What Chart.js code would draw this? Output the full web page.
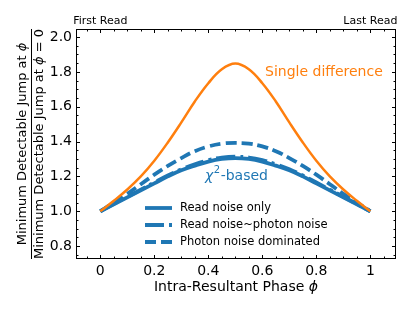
<!DOCTYPE html>
<html><head><meta charset="utf-8">
<script src="https://cdn.jsdelivr.net/npm/chart.js@4/dist/chart.umd.min.js"></script>
<style>html,body{margin:0;padding:0;background:#fff;}canvas{display:block;}</style>
</head><body>
<canvas id="c" width="415" height="311"></canvas>
<script>
const phase = [0,0.05,0.1,0.15,0.2,0.25,0.3,0.35,0.4,0.45,0.5,0.55,0.6,0.65,0.7,0.75,0.8,0.85,0.9,0.95,1];
const singleDiff = [1.00,1.06,1.125,1.20,1.29,1.395,1.51,1.63,1.735,1.815,1.848,1.815,1.735,1.63,1.51,1.395,1.29,1.20,1.125,1.06,1.00];
const readOnly = [1.00,1.04,1.08,1.12,1.16,1.20,1.235,1.262,1.285,1.30,1.305,1.30,1.285,1.262,1.235,1.20,1.16,1.12,1.08,1.04,1.00];
const readPhoton = [1.00,1.042,1.083,1.124,1.165,1.205,1.241,1.27,1.293,1.308,1.313,1.308,1.293,1.27,1.241,1.205,1.165,1.124,1.083,1.042,1.00];
const photonDom = [1.00,1.05,1.10,1.155,1.21,1.26,1.305,1.345,1.372,1.388,1.392,1.388,1.372,1.345,1.305,1.26,1.21,1.155,1.10,1.05,1.00];
const seriesNames = ['Read noise only','Read noise~photon noise','Photon noise dominated'];
const xTickValues = [0,0.2,0.4,0.6,0.8,1];
const xTickLabels = ['0','0.2','0.4','0.6','0.8','1'];
const yTickValues = [0.8,1.0,1.2,1.4,1.6,1.8,2.0];
const yTickLabels = ['0.8','1.0','1.2','1.4','1.6','1.8','2.0'];
const topLabels = ['First Read','Last Read'];

const BLUE = '#1f77b4', ORANGE = '#ff7f0e';
const FONT = 'DejaVu Sans';
const pts = arr => phase.map((p,i)=>({x:p,y:arr[i]}));

const decor = {
  id:'decor',
  afterDraw(chart){
    const ctx = chart.ctx, ca = chart.chartArea;
    const xs = chart.scales.x, ys = chart.scales.y;
    ctx.save();
    ctx.strokeStyle = '#000'; ctx.lineWidth = 1;
    ctx.strokeRect(ca.left+0.5, ca.top+0.5, ca.right-ca.left-1, ca.bottom-ca.top-1);
    ctx.beginPath();
    for (let v=-0.05; v<=1.0501; v+=0.05){
      const px = Math.round(xs.getPixelForValue(v))+0.5;
      const major = Math.abs(Math.round(v*5)-v*5)<1e-6;
      const L = major?4:2.5;
      ctx.moveTo(px, ca.bottom); ctx.lineTo(px, ca.bottom-L);
      ctx.moveTo(px, ca.top); ctx.lineTo(px, ca.top+L);
    }
    for (let v=0.75; v<=2.0401; v+=0.05){
      const py = Math.round(ys.getPixelForValue(v))+0.5;
      const major = Math.abs(Math.round(v*5)-v*5)<1e-6;
      const L = major?4:2.5;
      ctx.moveTo(ca.left, py); ctx.lineTo(ca.left+L, py);
      ctx.moveTo(ca.right, py); ctx.lineTo(ca.right-L, py);
    }
    ctx.stroke();
    ctx.fillStyle = '#000';
    ctx.font = '11px "'+FONT+'"';
    ctx.textBaseline = 'alphabetic';
    ctx.textAlign = 'center';
    ctx.fillText(topLabels[0], xs.getPixelForValue(0), ca.top-5);
    ctx.fillText(topLabels[1], xs.getPixelForValue(1), ca.top-5);
    ctx.font = '14px "'+FONT+'"';
    ctx.fillStyle = ORANGE; ctx.textAlign = 'left'; ctx.textBaseline = 'middle';
    ctx.fillText('Single difference', 265, 72);
    ctx.fillStyle = BLUE;
    ctx.font = 'italic 14px "'+FONT+'"';
    ctx.fillText('\u03c7', 205, 176);
    const wc = ctx.measureText('\u03c7').width;
    ctx.font = '10px "'+FONT+'"';
    ctx.fillText('2', 205+wc+0.5, 170);
    const w2s = ctx.measureText('2').width;
    ctx.font = '14px "'+FONT+'"';
    ctx.fillText('-based', 205+wc+w2s+1, 176);
    const ds = chart.data.datasets.slice(1);
    const rows = [208,225,242];
    ds.forEach((d,i)=>{
      ctx.strokeStyle = d.borderColor; ctx.lineWidth = d.borderWidth;
      ctx.setLineDash(d.borderDash||[]);
      ctx.beginPath(); ctx.moveTo(145, rows[i]); ctx.lineTo(172, rows[i]); ctx.stroke();
      ctx.setLineDash([]);
      ctx.fillStyle = '#000'; ctx.font = '11.5px "'+FONT+'"';
      ctx.textAlign='left'; ctx.textBaseline='middle';
      ctx.fillText(seriesNames[i], 180, rows[i]);
    });
    const cy = (ca.top+ca.bottom)/2;
    ctx.save();
    ctx.translate(0, cy); ctx.rotate(-Math.PI/2);
    ctx.fillStyle='#000'; ctx.textBaseline='alphabetic';
    const FS = 13;
    const drawMath = (pre, phiSuffix, y) => {
      ctx.font = FS+'px "'+FONT+'"';
      const w1 = ctx.measureText(pre).width;
      ctx.font = 'italic '+FS+'px "'+FONT+'"';
      const w2 = ctx.measureText('\u03d5').width;
      ctx.font = FS+'px "'+FONT+'"';
      const w3 = ctx.measureText(phiSuffix).width;
      let x0 = -(w1+w2+w3)/2;
      ctx.textAlign='left';
      ctx.fillText(pre, x0, y);
      ctx.font = 'italic '+FS+'px "'+FONT+'"';
      ctx.fillText('\u03d5', x0+w1, y);
      ctx.font = FS+'px "'+FONT+'"';
      ctx.fillText(phiSuffix, x0+w1+w2, y);
      return w1+w2+w3;
    };
    drawMath('Minimum Detectable Jump at ', '', 26);
    const wd = drawMath('Minimum Detectable Jump at ', ' = 0', 43);
    ctx.lineWidth = 1; ctx.strokeStyle='#000';
    ctx.beginPath(); ctx.moveTo(-wd/2, 31.5); ctx.lineTo(wd/2, 31.5); ctx.stroke();
    ctx.restore();
    ctx.fillStyle='#000'; ctx.textBaseline='middle';
    ctx.font = '14px "'+FONT+'"';
    const t1 = 'Intra-Resultant Phase ';
    const w1 = ctx.measureText(t1).width;
    ctx.font = 'italic 14px "'+FONT+'"';
    const w2 = ctx.measureText('\u03d5').width;
    const xc = (ca.left+ca.right)/2;
    ctx.textAlign='left';
    ctx.font = '14px "'+FONT+'"';
    ctx.fillText(t1, xc-(w1+w2)/2, 287);
    ctx.font = 'italic 14px "'+FONT+'"';
    ctx.fillText('\u03d5', xc-(w1+w2)/2+w1, 287);
    ctx.restore();
  }
};

new Chart(document.getElementById('c'), {
  type:'line',
  data:{datasets:[
    {label:'Single difference', data:pts(singleDiff), borderColor:ORANGE, borderWidth:2.5, pointRadius:0, tension:0.4, fill:false},
    {label:seriesNames[0], data:pts(readOnly), borderColor:BLUE, borderWidth:3.8, pointRadius:0, tension:0.4, fill:false},
    {label:seriesNames[1], data:pts(readPhoton), borderColor:BLUE, borderWidth:3.8, borderDash:[19,5,3,5], pointRadius:0, tension:0.4, fill:false},
    {label:seriesNames[2], data:pts(photonDom), borderColor:BLUE, borderWidth:3.8, borderDash:[11,5], pointRadius:0, tension:0.4, fill:false}
  ]},
  options:{
    responsive:false, animation:false, devicePixelRatio:1,
    layout:{padding:{top:29,right:19,left:0,bottom:0}},
    plugins:{legend:{display:false}, tooltip:{enabled:false}},
    scales:{
      x:{type:'linear', min:-0.09, max:1.095,
        grid:{display:false, drawTicks:false}, border:{display:false},
        afterBuildTicks:s=>{s.ticks = xTickValues.map(v=>({value:v}));},
        afterFit:s=>{s.height = 52;},
        ticks:{color:'#000', font:{family:FONT,size:14}, padding:4, maxRotation:0, autoSkip:false,
          callback:(v,i)=>xTickLabels[i]}
      },
      y:{type:'linear', min:0.726, max:2.046,
        grid:{display:false, drawTicks:false}, border:{display:false},
        afterBuildTicks:s=>{s.ticks = yTickValues.map(v=>({value:v}));},
        afterFit:s=>{s.width = 76;},
        ticks:{color:'#000', font:{family:FONT,size:14}, padding:4, autoSkip:false,
          callback:(v,i)=>yTickLabels[i]}
      }
    }
  },
  plugins:[decor]
});
</script>
</body></html>
